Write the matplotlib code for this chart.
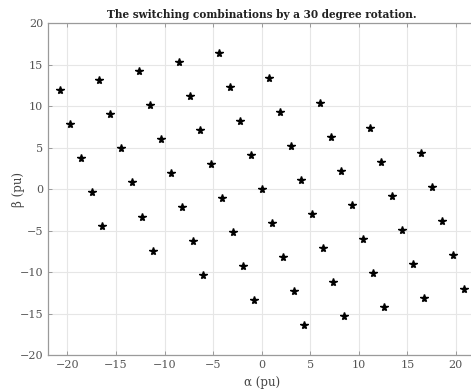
import matplotlib.pyplot as plt

# alpha-beta coordinates of the 61 switching vectors after the rotation
alpha = [-20.8, -19.7, -18.6, -17.5, -16.4,
         -16.7, -15.6, -14.5, -13.4, -12.3, -11.2,
         -12.6, -11.5, -10.4, -9.3, -8.2, -7.1, -6.0,
         -8.5, -7.4, -6.3, -5.2, -4.1, -3.0, -1.9, -0.8,
         -4.4, -3.3, -2.2, -1.1, 0.0, 1.1, 2.2, 3.3, 4.4,
         0.8, 1.9, 3.0, 4.1, 5.2, 6.3, 7.4, 8.5,
         6.0, 7.1, 8.2, 9.3, 10.4, 11.5, 12.6,
         11.2, 12.3, 13.4, 14.5, 15.6, 16.7,
         16.4, 17.5, 18.6, 19.7, 20.8]
beta = [12.0, 7.9, 3.8, -0.3, -4.4,
        13.1, 9.0, 4.9, 0.8, -3.3, -7.4,
        14.2, 10.1, 6.0, 1.9, -2.2, -6.3, -10.4,
        15.3, 11.2, 7.1, 3.0, -1.1, -5.2, -9.3, -13.4,
        16.4, 12.3, 8.2, 4.1, 0.0, -4.1, -8.2, -12.3, -16.4,
        13.4, 9.3, 5.2, 1.1, -3.0, -7.1, -11.2, -15.3,
        10.4, 6.3, 2.2, -1.9, -6.0, -10.1, -14.2,
        7.4, 3.3, -0.8, -4.9, -9.0, -13.1,
        4.4, 0.3, -3.8, -7.9, -12.0]

xticks = [-20, -15, -10, -5, 0, 5, 10, 15, 20]
yticks = [-20, -15, -10, -5, 0, 5, 10, 15, 20]

plt.rcParams['font.family'] = ['DejaVu Serif']

fig = plt.figure(figsize=(4.71, 3.92), dpi=100)
ax = fig.add_axes([0.102, 0.094, 0.907, 0.847])

ax.plot(alpha, beta, linestyle='none', marker='*', markersize=5.8,
        color='black')

ax.set_xlim(-22, 22)
ax.set_ylim(-20, 20)
ax.set_xticks(xticks)
ax.set_yticks(yticks)
ax.grid(True, color='#e6e6e6', linewidth=0.8)
ax.set_axisbelow(True)

for side in ax.spines.values():
    side.set_color('#9a9a9a')
    side.set_linewidth(0.9)
ax.tick_params(direction='in', length=3, width=0.7, color='#9a9a9a',
               labelcolor='#555555', labelsize=8, top=True, right=True)

ax.set_xlabel('α (pu)', fontsize=8.5, color='#444444', labelpad=4)
ax.set_ylabel('β (pu)', fontsize=8.5, color='#444444', labelpad=-4)
ax.set_title('The switching combinations by a 30 degree rotation.',
             fontsize=7.6, fontweight='bold', color='#222222', pad=4)

fig.savefig('out.png', dpi=100)
